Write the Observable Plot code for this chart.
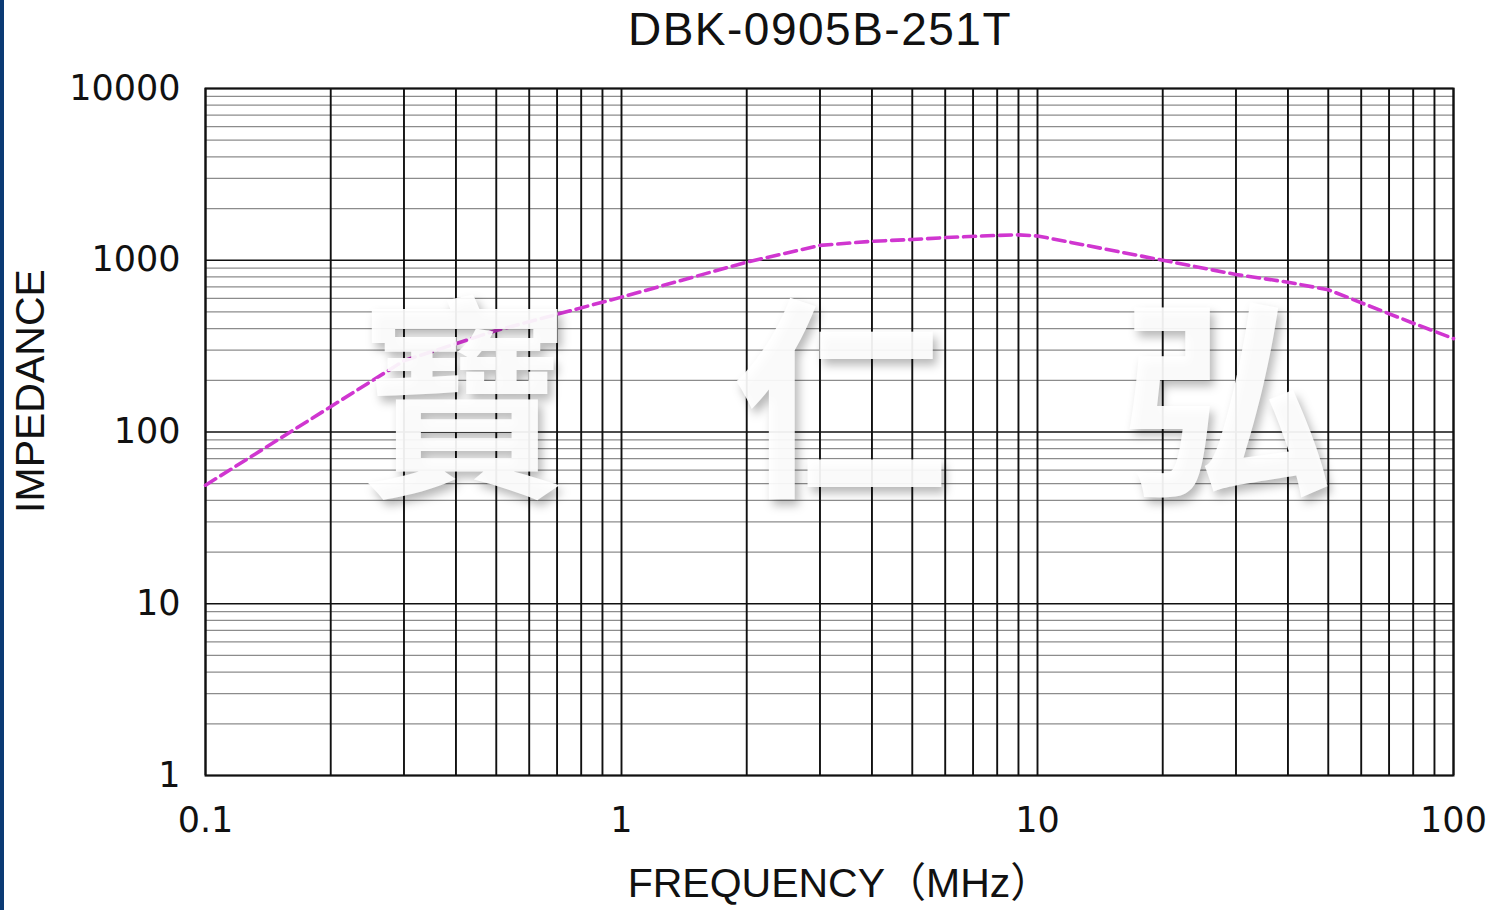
<!DOCTYPE html>
<html>
<head>
<meta charset="utf-8">
<script src="https://cdn.jsdelivr.net/npm/d3@7"></script>
<script src="https://cdn.jsdelivr.net/npm/@observablehq/plot@0.6"></script>
<style>
  html, body { margin: 0; padding: 0; background: #ffffff; }
  #page { position: relative; width: 1504px; height: 910px; overflow: hidden; background: #fff; }
  #edge { position: absolute; left: 0; top: 0; width: 4px; height: 910px; background: #0b3a74; }
  #title { position: relative; margin-left: 196px; width: 1248px; height: 62px; text-align: center;
           font-family: "Liberation Sans", Arial, sans-serif; font-size: 46px; line-height: 52px; letter-spacing: 1.5px;
           color: #111; padding-top: 3px; box-sizing: border-box; white-space: nowrap; }
  #chart svg { display: block; }
</style>
</head>
<body>
<div id="page">
  <div id="title">DBK-0905B-251T</div>
  <div id="chart"></div>
  <div id="edge"></div>
</div>
<script>
// Data
const frequencyMHz = [0.1, 0.3, 0.5, 1, 2, 3, 4, 5, 6, 8, 9, 10, 20, 30, 40, 50, 80, 100];
const impedance    = [49, 260, 390, 610, 975, 1220, 1290, 1320, 1355, 1395, 1405, 1385, 1000, 826, 745, 673, 430, 350];

const xTicks = [0.1, 1, 10, 100];
const xTickLabels = ["0.1", "1", "10", "100"];
const yTicks = [1, 10, 100, 1000, 10000];
const yTickLabels = ["1", "10", "100", "1000", "10000"];

const xLabel = "FREQUENCY\uFF08MHz\uFF09";
const yLabel = "IMPEDANCE";

const watermarkText = ["寶", "仁", "弘"];
const watermarkFreq = [0.42, 3.36, 28.3];
const watermarkImp  = [133, 133, 133];

const rows = frequencyMHz.map((f, i) => ({f, z: impedance[i]}));

const xGrid = d3.scaleLog().domain([0.1, 100]).ticks();
const yAll = d3.scaleLog().domain([1, 10000]).ticks();
const yMinor = yAll.filter(v => !yTicks.includes(v));

const chart = Plot.plot({
  width: 1504,
  height: 848,
  marginTop: 26,
  marginBottom: 135,
  marginLeft: 205,
  marginRight: 51,
  x: {type: "log", domain: [0.1, 100], label: null},
  y: {type: "log", domain: [1, 10000], label: null},
  style: {fontFamily: "DejaVu Sans", fontSize: "35px", color: "#111", background: "transparent", overflow: "visible"},
  marks: [
    Plot.ruleY(yMinor, {stroke: "#8c8c8c", strokeWidth: 1.3}),
    Plot.ruleY(yTicks, {stroke: "#111", strokeWidth: 1.7}),
    Plot.ruleX(xGrid, {stroke: "#111", strokeWidth: 1.9}),
    Plot.frame({stroke: "#111", strokeWidth: 2}),
    Plot.line(rows, {x: "f", y: "z", stroke: "#d036d0", strokeWidth: 3.6, strokeDasharray: "12,6"}),
    Plot.text(watermarkText, {
      x: (d, i) => watermarkFreq[i], y: (d, i) => watermarkImp[i], text: d => d,
      fontSize: 215, fontFamily: "Noto Sans CJK TC", fontWeight: 700,
      fill: "#ffffff", fillOpacity: 0.92
    }),
    Plot.axisX(xTicks, {tickSize: 0, tickPadding: 32, fontSize: 35, label: null,
      tickFormat: d => xTickLabels[xTicks.indexOf(d)]}),
    Plot.axisY(yTicks, {tickSize: 0, tickPadding: 25, fontSize: 35, label: null,
      tickFormat: d => yTickLabels[yTicks.indexOf(d)]}),
    Plot.text([yLabel], {frameAnchor: "left", dx: -175, dy: -41, rotate: -90,
      textAnchor: "middle", lineAnchor: "middle",
      text: d => d, fontFamily: "Liberation Sans", fontSize: 41, fill: "#111"}),
    Plot.text([xLabel], {frameAnchor: "bottom", dx: 10, dy: 108,
      textAnchor: "middle", lineAnchor: "middle",
      text: d => d, fontFamily: "Liberation Sans, Noto Sans CJK SC", fontSize: 41, fill: "#111"})
  ]
});

d3.select(chart).selectAll("text")
  .filter(function () { return watermarkText.includes(this.textContent); })
  .style("filter", "drop-shadow(4px 6px 5px rgba(0,0,0,0.3))");

document.getElementById("chart").appendChild(chart);
</script>
</body>
</html>
